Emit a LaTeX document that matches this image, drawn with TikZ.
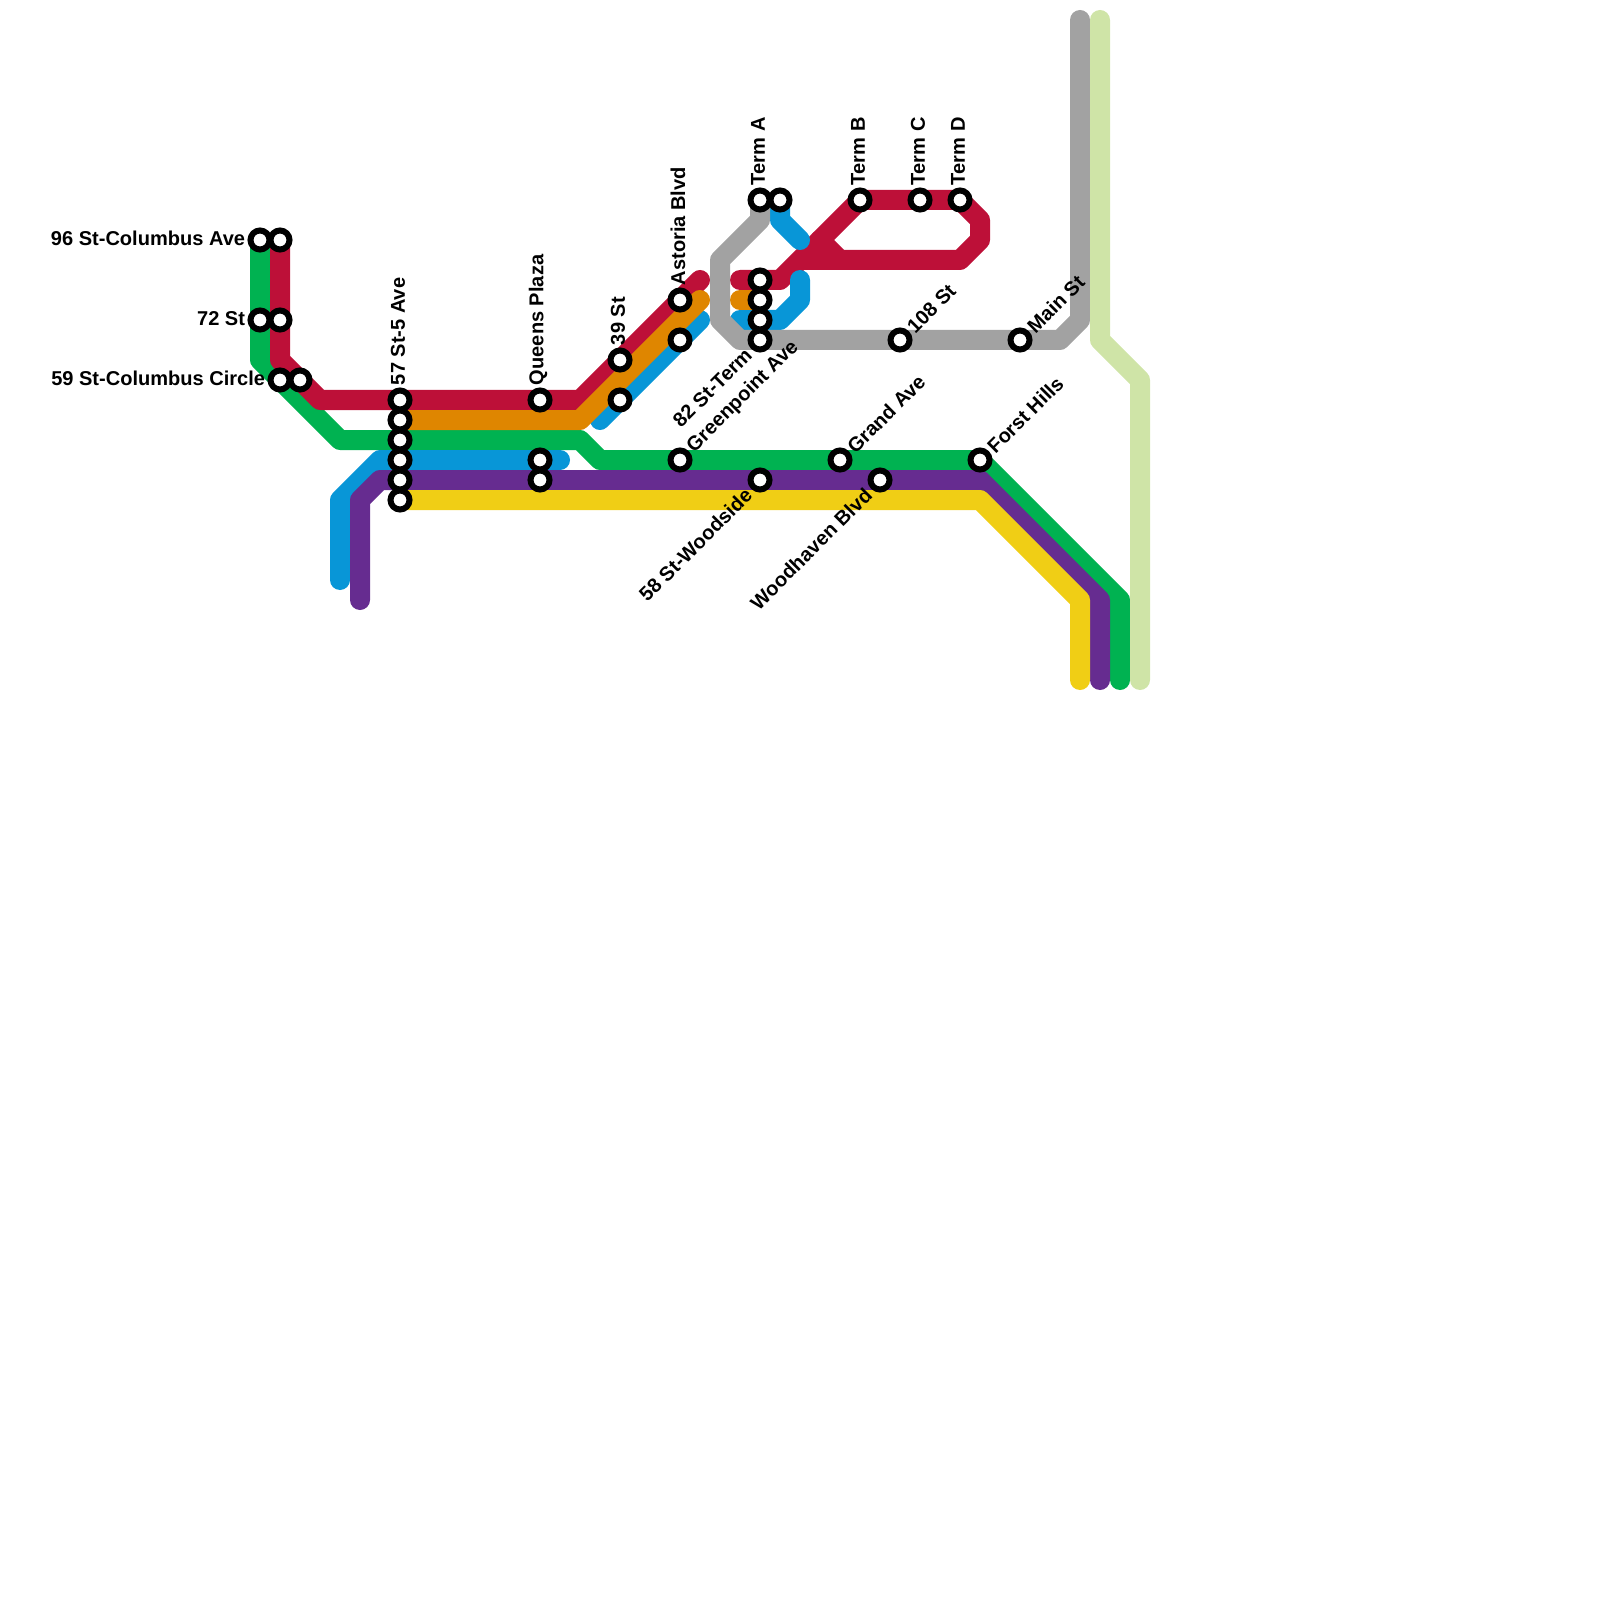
\documentclass[tikz,border=0pt]{standalone}
\usepackage{fontspec}
\setmainfont{Liberation Sans}
\usepackage{xcolor}
\usetikzlibrary{positioning,backgrounds}
\definecolor{linegreen}{RGB}{0,178,81}
\definecolor{linered}{RGB}{189,16,56}
\definecolor{lineorange}{RGB}{223,134,0}
\definecolor{lineblue}{RGB}{8,150,215}
\definecolor{linepurple}{RGB}{102,44,144}
\definecolor{lineyellow}{RGB}{240,206,21}
\definecolor{linegray}{RGB}{162,162,162}
\definecolor{linelime}{RGB}{207,228,167}
\tikzset{
    route/.style={line width=2mm, line cap=round, line join=round},
    stop/.style={circle, draw=black, fill=white, line width=0.6mm, minimum size=1.9mm, inner sep=0pt},
    stoplabel/.style={font=\bfseries\fontsize{5.7pt}{6pt}\selectfont, inner sep=0.5pt, text=black},
    upL/.style={stoplabel, rotate=90, anchor=west, yshift=0.2mm},
    diagL/.style={stoplabel, rotate=45, anchor=west},
    downL/.style={stoplabel, rotate=45, anchor=east, xshift=-0.15mm},
    sideL/.style={stoplabel, anchor=east, yshift=0.15mm},
}

\begin{document}
\begin{tikzpicture}[x=2mm,y=-2mm]
    \useasboundingbox (0,0) rectangle (80,80);

    \node[stop] (cola) at (13,12) {};
    \node[stop] (colb) at (14,12) {};
    \node[stop] (sevena) at (13,16) {};
    \node[stop] (sevenb) at (14,16) {};
    \node[stop] (circa) at (14,19) {};
    \node[stop] (circb) at (15,19) {};
    \node[stop] (fifa) at (20,20) {};
    \node[stop] (fifb) at (20,21) {};
    \node[stop] (fifc) at (20,22) {};
    \node[stop] (fifd) at (20,23) {};
    \node[stop] (fife) at (20,24) {};
    \node[stop] (fiff) at (20,25) {};
    \node[stop] (quea) at (27,20) {};
    \node[stop] (queb) at (27,23) {};
    \node[stop] (quec) at (27,24) {};
    \node[stop] (thia) at (31,18) {};
    \node[stop] (thib) at (31,20) {};
    \node[stop] (asta) at (34,15) {};
    \node[stop] (astb) at (34,17) {};
    \node[stop] (gree) at (34,23) {};
    \node[stop] (terma) at (38,10) {};
    \node[stop] (termab) at (39,10) {};
    \node[stop] (ttya) at (38,14) {};
    \node[stop] (ttyb) at (38,15) {};
    \node[stop] (ttyc) at (38,16) {};
    \node[stop] (ttyd) at (38,17) {};
    \node[stop] (wood) at (38,24) {};
    \node[stop] (termb) at (43,10) {};
    \node[stop] (termc) at (46,10) {};
    \node[stop] (termd) at (48,10) {};
    \node[stop] (grand) at (42,23) {};
    \node[stop] (whav) at (44,24) {};
    \node[stop] (ohe) at (45,17) {};
    \node[stop] (main) at (51,17) {};
    \node[stop] (forst) at (49,23) {};

    \node[sideL] (lcol) at (cola.west) {96 St-Columbus Ave};
    \node[sideL] (lsev) at (sevena.west) {72 St};
    \node[sideL] (lcir) at (circa.west) {59 St-Columbus Circle};
    \node[upL] (lfif) at (fifa.north) {57 St-5 Ave};
    \node[upL] (lque) at (quea.north) {Queens Plaza};
    \node[upL] (lthi) at (thia.north) {39 St};
    \node[upL] (last) at (asta.north) {Astoria Blvd};
    \node[upL] (ltea) at (terma.north) {Term A};
    \node[upL] (lteb) at (termb.north) {Term B};
    \node[upL] (ltec) at (termc.north) {Term C};
    \node[upL] (lted) at (termd.north) {Term D};
    \node[diagL] (lgre) at (gree.north east) {Greenpoint Ave};
    \node[diagL] (lgra) at (grand.north east) {Grand Ave};
    \node[diagL] (lfor) at (forst.north east) {Forst Hills};
    \node[diagL] (lohe) at (ohe.north east) {108 St};
    \node[diagL] (lmai) at (main.north east) {Main St};
    \node[downL] (ltty) at (ttyd.south west) {82 St-Term};
    \node[downL] (lwoo) at (wood.south west) {58 St-Woodside};
    \node[downL] (lwha) at (whav.south west) {Woodhaven Blvd};

    \coordinate (gra) at (13,18);
    \coordinate (grb) at (17,22);
    \coordinate (grc) at (29,22);
    \coordinate (grd) at (30,23);
    \coordinate (gre) at (56,30);
    \coordinate (grf) at (56,34);
    \coordinate (rea) at (14,18);
    \coordinate (reb) at (16,20);
    \coordinate (rec) at (29,20);
    \coordinate (red) at (35,14);
    \coordinate (ree) at (37,14);
    \coordinate (ref) at (39,14);
    \coordinate (reg) at (49,11);
    \coordinate (reh) at (49,12);
    \coordinate (rei) at (48,13);
    \coordinate (rej) at (40,13);
    \coordinate (rek) at (41,12);
    \coordinate (rel) at (42,13);
    \coordinate (ora) at (29,21);
    \coordinate (orb) at (35,15);
    \coordinate (orc) at (37,15);
    \coordinate (bla) at (17,29);
    \coordinate (blb) at (17,25);
    \coordinate (blc) at (19,23);
    \coordinate (bld) at (28,23);
    \coordinate (ble) at (30,21);
    \coordinate (blf) at (35,16);
    \coordinate (blg) at (39,11);
    \coordinate (blh) at (40,12);
    \coordinate (bli) at (40,14);
    \coordinate (blj) at (40,15);
    \coordinate (blk) at (39,16);
    \coordinate (bll) at (37,16);
    \coordinate (pua) at (18,30);
    \coordinate (pub) at (18,25);
    \coordinate (puc) at (19,24);
    \coordinate (pud) at (49,24);
    \coordinate (pue) at (55,30);
    \coordinate (puf) at (55,34);
    \coordinate (yea) at (49,25);
    \coordinate (yeb) at (54,30);
    \coordinate (yec) at (54,34);
    \coordinate (gya) at (38,11);
    \coordinate (gyb) at (36,13);
    \coordinate (gyc) at (36,16);
    \coordinate (gyd) at (37,17);
    \coordinate (gye) at (53,17);
    \coordinate (gyf) at (54,16);
    \coordinate (gyg) at (54,1);
    \coordinate (lia) at (55,1);
    \coordinate (lib) at (55,17);
    \coordinate (lic) at (57,19);
    \coordinate (lid) at (57,34);

    \begin{scope}[on background layer]
        \draw[route, linegreen] (cola.center) -- (gra) -- (grb) -- (grc) -- (grd) -- (forst.center) -- (gre) -- (grf);
        \draw[route, linered] (colb.center) -- (rea) -- (reb) -- (rec) -- (red);
        \draw[route, linered] (ree) -- (ref) -- (termb.center) -- (termd.center) -- (reg) -- (reh) -- (rei) -- (rej);
        \draw[route, linered] (rek) -- (rel);
        \draw[route, lineblue] (bla) -- (blb) -- (blc) -- (bld);
        \draw[route, lineblue] (ble) -- (blf);
        \draw[route, lineblue] (termab.center) -- (blg) -- (blh);
        \draw[route, lineblue] (bli) -- (blj) -- (blk) -- (bll);
        \draw[route, lineorange] (fifb.center) -- (ora) -- (orb);
        \draw[route, lineorange] (orc) -- (ttyb.center);
        \draw[route, linepurple] (pua) -- (pub) -- (puc) -- (pud) -- (pue) -- (puf);
        \draw[route, lineyellow] (fiff.center) -- (yea) -- (yeb) -- (yec);
        \draw[route, linegray] (terma.center) -- (gya) -- (gyb) -- (gyc) -- (gyd) -- (gye) -- (gyf) -- (gyg);
        \draw[route, linelime] (lia) -- (lib) -- (lic) -- (lid);
    \end{scope}
\end{tikzpicture}
\end{document}
